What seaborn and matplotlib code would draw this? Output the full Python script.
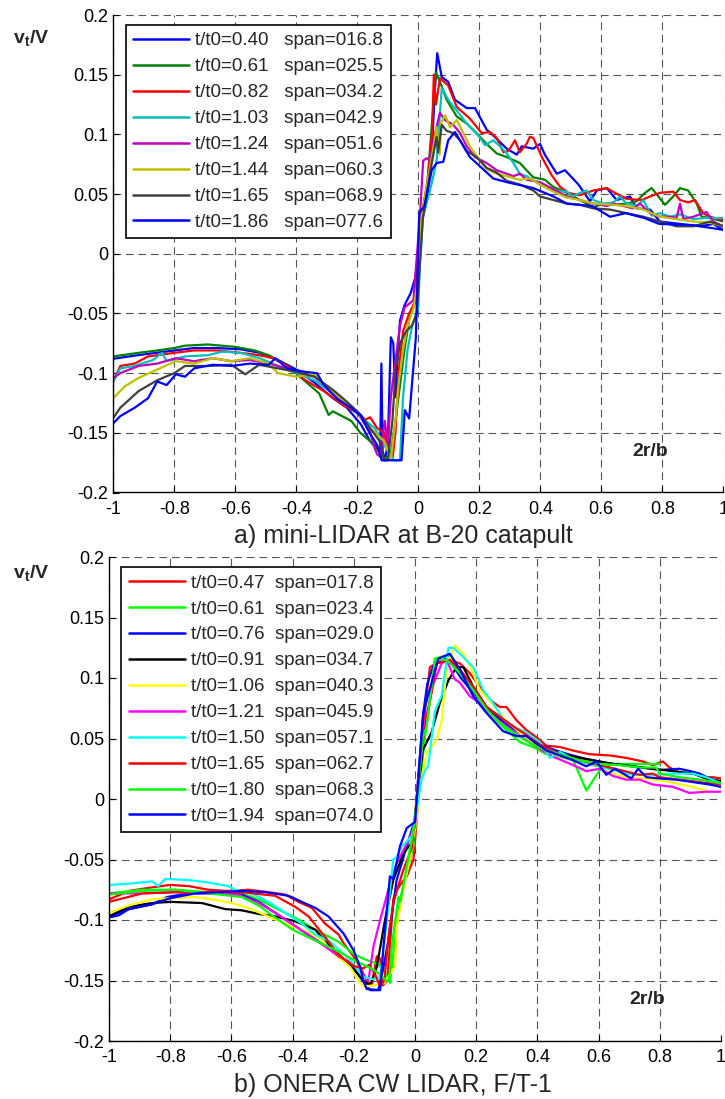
import matplotlib
matplotlib.use('Agg')
import matplotlib.pyplot as plt
import seaborn as sns
import pandas as pd
from matplotlib.ticker import FixedLocator, FixedFormatter

sns.set_style('white')
plt.rcParams['font.family'] = ['Liberation Sans', 'DejaVu Sans']
plt.rcParams['mathtext.fontset'] = 'custom'
plt.rcParams['mathtext.bf'] = 'Liberation Sans:bold'
plt.rcParams['mathtext.rm'] = 'Liberation Sans'
plt.rcParams['mathtext.it'] = 'Liberation Sans:italic'
plt.rcParams['lines.scale_dashes'] = False

# ---------------- data: panel a) mini-LIDAR (x = 2r/b, y = vt/V) ----------------
A_T040 = [(-1, -0.088), (-0.92, -0.085), (-0.8, -0.081), (-0.735, -0.079), (-0.66, -0.079), (-0.583, -0.080),
          (-0.52, -0.083), (-0.46, -0.089), (-0.4, -0.097), (-0.34, -0.108), (-0.28, -0.121), (-0.234, -0.129),
          (-0.188, -0.143), (-0.158, -0.157), (-0.135, -0.162), (-0.125, -0.165), (-0.121, -0.092), (-0.117, -0.165),
          (-0.11, -0.173), (-0.1, -0.160), (-0.09, -0.070), (-0.082, -0.075), (-0.075, -0.120), (-0.068, -0.085),
          (-0.06, -0.056), (-0.045, -0.043), (-0.025, -0.033), (-0.01, -0.020), (0.0, 0.000), (0.01, 0.030),
          (0.03, 0.050), (0.045, 0.090), (0.055, 0.140), (0.062, 0.168), (0.077, 0.148), (0.098, 0.144),
          (0.12, 0.129), (0.159, 0.122), (0.186, 0.122), (0.224, 0.104), (0.246, 0.099), (0.29, 0.088),
          (0.323, 0.083), (0.339, 0.090), (0.377, 0.088), (0.399, 0.092), (0.415, 0.083), (0.454, 0.067),
          (0.481, 0.070), (0.525, 0.058), (0.563, 0.044), (0.585, 0.053), (0.618, 0.055), (0.65, 0.045),
          (0.694, 0.048), (0.716, 0.038), (0.76, 0.037), (0.792, 0.027), (0.858, 0.025), (0.924, 0.023),
          (0.967, 0.025), (1.0, 0.020)]
A_T061 = [(-1, -0.086), (-0.917, -0.083), (-0.856, -0.081), (-0.8, -0.079), (-0.765, -0.077), (-0.69, -0.076),
          (-0.6, -0.078), (-0.537, -0.081), (-0.49, -0.085), (-0.43, -0.094), (-0.37, -0.107), (-0.325, -0.117),
          (-0.294, -0.135), (-0.28, -0.132), (-0.25, -0.136), (-0.22, -0.140), (-0.19, -0.150), (-0.158, -0.157),
          (-0.135, -0.164), (-0.11, -0.172), (-0.09, -0.168), (-0.075, -0.140), (-0.06, -0.110), (-0.045, -0.080),
          (-0.03, -0.055), (-0.01, -0.040), (0.0, -0.010), (0.01, 0.030), (0.03, 0.060), (0.045, 0.110),
          (0.058, 0.152), (0.077, 0.140), (0.093, 0.129), (0.126, 0.115), (0.159, 0.109), (0.191, 0.101),
          (0.224, 0.092), (0.257, 0.084), (0.29, 0.081), (0.333, 0.076), (0.377, 0.064), (0.415, 0.062),
          (0.443, 0.056), (0.487, 0.051), (0.53, 0.045), (0.574, 0.039), (0.596, 0.041), (0.64, 0.041),
          (0.683, 0.042), (0.716, 0.044), (0.743, 0.051), (0.765, 0.055), (0.787, 0.048), (0.809, 0.041),
          (0.836, 0.048), (0.858, 0.055), (0.885, 0.053), (0.913, 0.042), (0.929, 0.031), (0.956, 0.030),
          (1.0, 0.027)]
A_T082 = [(-1, -0.107), (-0.977, -0.094), (-0.93, -0.092), (-0.886, -0.086), (-0.8, -0.083), (-0.735, -0.081),
          (-0.66, -0.081), (-0.583, -0.083), (-0.522, -0.085), (-0.476, -0.0875), (-0.43, -0.094), (-0.37, -0.106),
          (-0.31, -0.115), (-0.25, -0.126), (-0.203, -0.133), (-0.173, -0.139), (-0.158, -0.137), (-0.135, -0.146),
          (-0.112, -0.150), (-0.1, -0.165), (-0.085, -0.173), (-0.075, -0.150), (-0.065, -0.100), (-0.05, -0.065),
          (-0.03, -0.050), (-0.01, -0.040), (0.0, -0.010), (0.01, 0.030), (0.03, 0.060), (0.045, 0.100),
          (0.051, 0.150), (0.058, 0.125), (0.071, 0.147), (0.098, 0.141), (0.126, 0.123), (0.17, 0.113),
          (0.208, 0.101), (0.235, 0.102), (0.257, 0.097), (0.279, 0.085), (0.295, 0.086), (0.317, 0.095),
          (0.333, 0.085), (0.355, 0.092), (0.366, 0.098), (0.377, 0.097), (0.405, 0.081), (0.437, 0.066),
          (0.465, 0.056), (0.492, 0.051), (0.53, 0.049), (0.574, 0.053), (0.618, 0.055), (0.645, 0.051),
          (0.683, 0.046), (0.733, 0.045), (0.76, 0.048), (0.792, 0.051), (0.836, 0.052), (0.858, 0.045),
          (0.885, 0.043), (0.907, 0.045), (0.934, 0.034), (0.956, 0.031), (1.0, 0.028)]
A_T103 = [(-1, -0.107), (-0.977, -0.096), (-0.93, -0.094), (-0.87, -0.089), (-0.84, -0.083), (-0.825, -0.090),
          (-0.765, -0.086), (-0.69, -0.085), (-0.643, -0.082), (-0.583, -0.083), (-0.52, -0.0875), (-0.46, -0.094),
          (-0.4, -0.100), (-0.34, -0.106), (-0.28, -0.117), (-0.22, -0.129), (-0.173, -0.140), (-0.143, -0.146),
          (-0.112, -0.160), (-0.1, -0.165), (-0.08, -0.173), (-0.06, -0.173), (-0.05, -0.120), (-0.035, -0.080),
          (-0.02, -0.060), (0.0, -0.045), (0.005, -0.010), (0.015, 0.030), (0.03, 0.045), (0.045, 0.060),
          (0.06, 0.078), (0.077, 0.139), (0.098, 0.129), (0.126, 0.120), (0.159, 0.109), (0.191, 0.101),
          (0.219, 0.091), (0.246, 0.095), (0.268, 0.090), (0.29, 0.084), (0.312, 0.076), (0.333, 0.067),
          (0.355, 0.065), (0.399, 0.058), (0.443, 0.053), (0.487, 0.052), (0.508, 0.048), (0.53, 0.051),
          (0.552, 0.053), (0.574, 0.045), (0.607, 0.042), (0.64, 0.043), (0.661, 0.048), (0.683, 0.042),
          (0.716, 0.040), (0.738, 0.045), (0.765, 0.032), (0.792, 0.034), (0.825, 0.031), (0.858, 0.033),
          (0.902, 0.029), (0.945, 0.030), (1.0, 0.030)]
A_T124 = [(-1, -0.104), (-0.977, -0.100), (-0.917, -0.094), (-0.856, -0.092), (-0.795, -0.0875), (-0.735, -0.090),
          (-0.674, -0.0875), (-0.613, -0.090), (-0.552, -0.089), (-0.49, -0.092), (-0.43, -0.096), (-0.385, -0.100),
          (-0.34, -0.103), (-0.294, -0.113), (-0.25, -0.124), (-0.203, -0.132), (-0.158, -0.149), (-0.143, -0.163),
          (-0.135, -0.168), (-0.125, -0.170), (-0.11, -0.140), (-0.1, -0.160), (-0.09, -0.120), (-0.075, -0.090),
          (-0.06, -0.060), (-0.045, -0.045), (-0.016, -0.039), (0.005, 0.030), (0.016, 0.078), (0.027, 0.080),
          (0.038, 0.078), (0.055, 0.101), (0.071, 0.118), (0.087, 0.112), (0.115, 0.108), (0.137, 0.101),
          (0.159, 0.090), (0.186, 0.081), (0.224, 0.076), (0.257, 0.070), (0.29, 0.067), (0.312, 0.065),
          (0.333, 0.067), (0.355, 0.062), (0.399, 0.060), (0.443, 0.054), (0.487, 0.048), (0.53, 0.045),
          (0.574, 0.042), (0.618, 0.040), (0.64, 0.042), (0.672, 0.040), (0.705, 0.038), (0.727, 0.042),
          (0.76, 0.034), (0.792, 0.031), (0.825, 0.031), (0.847, 0.030), (0.858, 0.042), (0.869, 0.029),
          (0.902, 0.031), (0.945, 0.035), (0.967, 0.027), (1.0, 0.023)]
A_T144 = [(-1, -0.121), (-0.962, -0.111), (-0.917, -0.104), (-0.856, -0.097), (-0.795, -0.090), (-0.735, -0.092),
          (-0.674, -0.0875), (-0.613, -0.090), (-0.552, -0.0875), (-0.49, -0.092), (-0.46, -0.100), (-0.4, -0.103),
          (-0.34, -0.101), (-0.31, -0.110), (-0.25, -0.122), (-0.203, -0.132), (-0.158, -0.146), (-0.112, -0.157),
          (-0.1, -0.165), (-0.09, -0.173), (-0.075, -0.140), (-0.065, -0.110), (-0.05, -0.080), (-0.035, -0.060),
          (-0.015, -0.045), (0.0, -0.020), (0.01, 0.030), (0.03, 0.060), (0.05, 0.090), (0.06, 0.106),
          (0.07, 0.083), (0.075, 0.110), (0.088, 0.116), (0.104, 0.106), (0.126, 0.112), (0.148, 0.101),
          (0.169, 0.090), (0.202, 0.078), (0.224, 0.071), (0.257, 0.067), (0.29, 0.065), (0.333, 0.062),
          (0.366, 0.063), (0.399, 0.058), (0.443, 0.052), (0.487, 0.047), (0.53, 0.045), (0.574, 0.042),
          (0.64, 0.041), (0.683, 0.040), (0.738, 0.037), (0.792, 0.031), (0.847, 0.029), (0.902, 0.027),
          (0.956, 0.026), (1.0, 0.023)]
A_T165 = [(-1, -0.1375), (-0.977, -0.129), (-0.917, -0.115), (-0.856, -0.106), (-0.8, -0.100), (-0.765, -0.094),
          (-0.69, -0.094), (-0.613, -0.093), (-0.567, -0.101), (-0.522, -0.093), (-0.46, -0.096), (-0.4, -0.099),
          (-0.34, -0.103), (-0.28, -0.114), (-0.234, -0.124), (-0.188, -0.135), (-0.158, -0.146), (-0.127, -0.157),
          (-0.112, -0.173), (-0.1, -0.173), (-0.085, -0.140), (-0.075, -0.100), (-0.06, -0.075), (-0.04, -0.065),
          (-0.02, -0.060), (-0.005, -0.050), (0.005, -0.010), (0.015, 0.030), (0.025, 0.045), (0.04, 0.070),
          (0.06, 0.098), (0.065, 0.085), (0.077, 0.108), (0.093, 0.103), (0.115, 0.101), (0.137, 0.095),
          (0.159, 0.086), (0.191, 0.081), (0.224, 0.072), (0.257, 0.068), (0.29, 0.061), (0.333, 0.058),
          (0.377, 0.053), (0.399, 0.048), (0.443, 0.045), (0.487, 0.042), (0.53, 0.041), (0.574, 0.038),
          (0.629, 0.037), (0.683, 0.034), (0.738, 0.031), (0.792, 0.027), (0.847, 0.023), (0.902, 0.023),
          (0.956, 0.027), (1.0, 0.023)]
A_T186 = [(-1, -0.142), (-0.977, -0.136), (-0.93, -0.129), (-0.886, -0.121), (-0.856, -0.107), (-0.825, -0.110),
          (-0.795, -0.101), (-0.765, -0.103), (-0.735, -0.096), (-0.674, -0.093), (-0.613, -0.094), (-0.552, -0.092),
          (-0.49, -0.093), (-0.469, -0.0875), (-0.43, -0.096), (-0.37, -0.099), (-0.332, -0.100), (-0.31, -0.110),
          (-0.264, -0.122), (-0.22, -0.129), (-0.188, -0.136), (-0.158, -0.151), (-0.135, -0.160), (-0.12, -0.173),
          (-0.055, -0.173), (-0.044, -0.131), (-0.03, -0.138), (-0.008, -0.070), (0.003, 0.034), (0.02, 0.040),
          (0.044, 0.070), (0.06, 0.076), (0.082, 0.077), (0.098, 0.095), (0.12, 0.102), (0.169, 0.081),
          (0.246, 0.063), (0.29, 0.060), (0.377, 0.055), (0.443, 0.048), (0.487, 0.042), (0.57, 0.040),
          (0.629, 0.031), (0.68, 0.034), (0.74, 0.030), (0.79, 0.025), (0.9, 0.024), (1.0, 0.020)]

A_SERIES = [A_T040, A_T061, A_T082, A_T103, A_T124, A_T144, A_T165, A_T186]
A_LABELS = ['t/t0=0.40   span=016.8', 't/t0=0.61   span=025.5', 't/t0=0.82   span=034.2',
            't/t0=1.03   span=042.9', 't/t0=1.24   span=051.6', 't/t0=1.44   span=060.3',
            't/t0=1.65   span=068.9', 't/t0=1.86   span=077.6']
A_COLORS = ['#0000ff', '#008000', '#ff0000', '#00bfbf', '#bf00bf', '#bfbf00', '#404040', '#0000ff']

# ---------------- data: panel b) ONERA CW LIDAR ----------------
B_T047 = [(-1, -0.083), (-0.935, -0.076), (-0.859, -0.073), (-0.8, -0.071), (-0.74, -0.072), (-0.675, -0.075),
          (-0.61, -0.076), (-0.544, -0.075), (-0.479, -0.077), (-0.424, -0.079), (-0.381, -0.085), (-0.337, -0.090),
          (-0.294, -0.103), (-0.25, -0.112), (-0.234, -0.119), (-0.201, -0.130), (-0.179, -0.139), (-0.158, -0.150),
          (-0.141, -0.154), (-0.125, -0.130), (-0.114, -0.132), (-0.105, -0.154), (-0.09, -0.150), (-0.071, -0.083),
          (-0.06, -0.075), (-0.027, -0.064), (-0.005, -0.050), (0.016, 0.016), (0.035, 0.080), (0.049, 0.109),
          (0.082, 0.114), (0.125, 0.114), (0.147, 0.112), (0.179, 0.104), (0.212, 0.093), (0.245, 0.082),
          (0.277, 0.076), (0.299, 0.076), (0.332, 0.065), (0.364, 0.057), (0.397, 0.051), (0.43, 0.044),
          (0.473, 0.043), (0.517, 0.040), (0.571, 0.037), (0.636, 0.036), (0.69, 0.034), (0.745, 0.031),
          (0.777, 0.028), (0.81, 0.031), (0.832, 0.026), (0.864, 0.022), (0.897, 0.021), (0.919, 0.021),
          (0.94, 0.018), (0.973, 0.018), (1.0, 0.017)]
B_T061 = [(-1, -0.078), (-0.891, -0.075), (-0.783, -0.075), (-0.675, -0.077), (-0.566, -0.078), (-0.511, -0.083),
          (-0.457, -0.090), (-0.392, -0.098), (-0.326, -0.108), (-0.25, -0.118), (-0.201, -0.128), (-0.169, -0.132),
          (-0.125, -0.136), (-0.103, -0.141), (-0.082, -0.152), (-0.049, -0.083), (-0.005, -0.039), (0.011, 0.001),
          (0.033, 0.052), (0.049, 0.082), (0.065, 0.116), (0.092, 0.118), (0.12, 0.118), (0.147, 0.104),
          (0.168, 0.099), (0.201, 0.087), (0.234, 0.076), (0.266, 0.065), (0.299, 0.057), (0.343, 0.047),
          (0.386, 0.043), (0.43, 0.037), (0.473, 0.035), (0.517, 0.032), (0.56, 0.007), (0.604, 0.024),
          (0.647, 0.029), (0.69, 0.029), (0.745, 0.029), (0.777, 0.029), (0.8, 0.029)]
B_T076 = [(-1, -0.097), (-0.935, -0.091), (-0.859, -0.087), (-0.81, -0.081), (-0.74, -0.078), (-0.64, -0.078),
          (-0.566, -0.079), (-0.511, -0.085), (-0.457, -0.094), (-0.392, -0.105), (-0.326, -0.116), (-0.25, -0.129),
          (-0.2, -0.140), (-0.169, -0.151), (-0.147, -0.158), (-0.12, -0.158), (-0.103, -0.139), (-0.087, -0.117),
          (-0.06, -0.067), (-0.027, -0.039), (0.0, -0.017), (0.011, 0.020), (0.027, 0.071), (0.04, 0.095),
          (0.06, 0.110), (0.08, 0.113), (0.1, 0.116), (0.125, 0.110), (0.15, 0.100), (0.19, 0.088),
          (0.234, 0.075), (0.277, 0.066), (0.321, 0.058), (0.364, 0.052), (0.408, 0.045), (0.451, 0.041),
          (0.5, 0.037), (0.56, 0.033), (0.62, 0.030), (0.68, 0.028), (0.74, 0.026), (0.8, 0.024),
          (0.864, 0.025), (0.9, 0.023), (0.93, 0.021), (0.962, 0.017), (1.0, 0.014)]
B_T091 = [(-1, -0.097), (-0.935, -0.089), (-0.859, -0.086), (-0.8, -0.085), (-0.696, -0.086), (-0.62, -0.091),
          (-0.566, -0.092), (-0.511, -0.095), (-0.457, -0.097), (-0.392, -0.101), (-0.326, -0.108), (-0.277, -0.122),
          (-0.212, -0.137), (-0.169, -0.150), (-0.147, -0.154), (-0.125, -0.139), (-0.098, -0.100), (-0.071, -0.067),
          (-0.038, -0.045), (-0.005, -0.034), (0.008, 0.000), (0.025, 0.040), (0.054, 0.055), (0.082, 0.080),
          (0.109, 0.098), (0.136, 0.109), (0.158, 0.109), (0.19, 0.093), (0.234, 0.076), (0.277, 0.068),
          (0.321, 0.060), (0.364, 0.052), (0.408, 0.043), (0.451, 0.039), (0.517, 0.035), (0.582, 0.032),
          (0.647, 0.029), (0.712, 0.027), (0.777, 0.025), (0.843, 0.023), (0.908, 0.021), (0.962, 0.016),
          (1.0, 0.015)]
B_T106 = [(-1, -0.094), (-0.935, -0.088), (-0.859, -0.083), (-0.8, -0.082), (-0.718, -0.081), (-0.66, -0.083),
          (-0.6, -0.086), (-0.544, -0.090), (-0.48, -0.097), (-0.413, -0.104), (-0.35, -0.110), (-0.3, -0.117),
          (-0.277, -0.125), (-0.212, -0.139), (-0.179, -0.152), (-0.169, -0.155), (-0.136, -0.154), (-0.1, -0.152),
          (-0.065, -0.138), (-0.06, -0.106), (-0.043, -0.081), (-0.016, -0.048), (0.005, -0.017), (0.016, 0.010),
          (0.038, 0.038), (0.071, 0.049), (0.087, 0.064), (0.103, 0.108), (0.13, 0.127), (0.158, 0.120),
          (0.185, 0.107), (0.212, 0.090), (0.256, 0.078), (0.299, 0.064), (0.343, 0.055), (0.397, 0.043),
          (0.451, 0.037), (0.517, 0.033), (0.582, 0.028), (0.647, 0.021), (0.69, 0.018), (0.756, 0.017),
          (0.832, 0.014), (0.908, 0.010), (0.951, 0.007)]
B_T121 = [(-1, -0.078), (-0.891, -0.078), (-0.783, -0.077), (-0.675, -0.078), (-0.58, -0.079), (-0.511, -0.086),
          (-0.457, -0.094), (-0.392, -0.105), (-0.326, -0.116), (-0.25, -0.130), (-0.212, -0.135), (-0.179, -0.143),
          (-0.152, -0.150), (-0.136, -0.122), (-0.114, -0.100), (-0.087, -0.075), (-0.06, -0.053), (-0.027, -0.037),
          (0.0, -0.023), (0.01, 0.010), (0.03, 0.060), (0.06, 0.095), (0.087, 0.112), (0.103, 0.115),
          (0.13, 0.099), (0.147, 0.096), (0.179, 0.085), (0.212, 0.079), (0.256, 0.068), (0.299, 0.060),
          (0.343, 0.052), (0.397, 0.043), (0.451, 0.035), (0.517, 0.028), (0.56, 0.023), (0.604, 0.025),
          (0.647, 0.019), (0.69, 0.016), (0.734, 0.016), (0.777, 0.012), (0.843, 0.010), (0.897, 0.005),
          (0.951, 0.006), (1.0, 0.006)]
B_T150 = [(-1, -0.071), (-0.935, -0.070), (-0.859, -0.068), (-0.84, -0.072), (-0.816, -0.066), (-0.74, -0.067),
          (-0.675, -0.069), (-0.61, -0.072), (-0.588, -0.075), (-0.533, -0.078), (-0.479, -0.085), (-0.424, -0.094),
          (-0.37, -0.103), (-0.326, -0.112), (-0.277, -0.118), (-0.212, -0.133), (-0.169, -0.147), (-0.136, -0.149),
          (-0.114, -0.147), (-0.092, -0.100), (-0.071, -0.050), (-0.06, -0.048), (-0.043, -0.039), (-0.011, -0.031),
          (0.005, -0.010), (0.02, 0.015), (0.033, 0.024), (0.043, 0.027), (0.065, 0.073), (0.087, 0.085),
          (0.109, 0.125), (0.125, 0.125), (0.147, 0.120), (0.19, 0.109), (0.223, 0.090), (0.256, 0.079),
          (0.288, 0.066), (0.321, 0.060), (0.364, 0.055), (0.408, 0.047), (0.441, 0.034), (0.473, 0.039),
          (0.517, 0.033), (0.582, 0.028), (0.647, 0.024), (0.712, 0.020), (0.777, 0.020), (0.843, 0.021),
          (0.908, 0.021), (0.951, 0.018), (1.0, 0.013)]
B_T165 = [(-1, -0.085), (-0.891, -0.078), (-0.783, -0.077), (-0.675, -0.077), (-0.566, -0.077), (-0.457, -0.080),
          (-0.392, -0.089), (-0.348, -0.097), (-0.294, -0.114), (-0.25, -0.129), (-0.2, -0.138), (-0.17, -0.140),
          (-0.15, -0.137), (-0.13, -0.145), (-0.114, -0.155), (-0.1, -0.150), (-0.085, -0.110), (-0.07, -0.085),
          (-0.04, -0.060), (-0.01, -0.040), (0.005, 0.000), (0.02, 0.040), (0.038, 0.066), (0.071, 0.112),
          (0.114, 0.115), (0.147, 0.107), (0.19, 0.093), (0.234, 0.076), (0.277, 0.068), (0.321, 0.060),
          (0.364, 0.053), (0.408, 0.045), (0.473, 0.037), (0.538, 0.032), (0.604, 0.028), (0.669, 0.024),
          (0.734, 0.020), (0.777, 0.021), (0.799, 0.018), (0.864, 0.016), (0.93, 0.014), (1.0, 0.012)]
B_T180 = [(-1, -0.079), (-0.891, -0.076), (-0.783, -0.075), (-0.675, -0.078), (-0.566, -0.081), (-0.511, -0.088),
          (-0.457, -0.098), (-0.4, -0.108), (-0.326, -0.117), (-0.25, -0.126), (-0.2, -0.133), (-0.16, -0.138),
          (-0.13, -0.142), (-0.11, -0.146), (-0.095, -0.150), (-0.085, -0.150), (-0.075, -0.120), (-0.054, -0.081),
          (-0.048, -0.085), (-0.03, -0.060), (-0.005, -0.026), (0.01, 0.010), (0.025, 0.050), (0.038, 0.060),
          (0.065, 0.115), (0.103, 0.115), (0.147, 0.104), (0.19, 0.090), (0.234, 0.074), (0.277, 0.063),
          (0.321, 0.055), (0.364, 0.048), (0.408, 0.042), (0.473, 0.037), (0.538, 0.032), (0.604, 0.029),
          (0.669, 0.028), (0.734, 0.026), (0.788, 0.026), (0.8, 0.021), (0.864, 0.018), (0.93, 0.016),
          (1.0, 0.013)]
B_T194 = [(-1, -0.098), (-0.967, -0.096), (-0.935, -0.091), (-0.859, -0.087), (-0.8, -0.082), (-0.718, -0.078),
          (-0.642, -0.077), (-0.566, -0.076), (-0.489, -0.077), (-0.413, -0.080), (-0.37, -0.085), (-0.326, -0.090),
          (-0.283, -0.097), (-0.234, -0.111), (-0.201, -0.125), (-0.179, -0.139), (-0.169, -0.150), (-0.158, -0.157),
          (-0.114, -0.158), (-0.103, -0.122), (-0.082, -0.064), (-0.071, -0.066), (-0.049, -0.039), (-0.027, -0.024),
          (0.0, -0.019), (0.011, 0.016), (0.027, 0.071), (0.076, 0.116), (0.114, 0.120), (0.147, 0.107),
          (0.19, 0.085), (0.234, 0.071), (0.288, 0.056), (0.332, 0.052), (0.364, 0.052), (0.397, 0.046),
          (0.43, 0.040), (0.473, 0.036), (0.517, 0.032), (0.56, 0.027), (0.593, 0.031), (0.625, 0.020),
          (0.653, 0.025), (0.68, 0.021), (0.707, 0.017), (0.729, 0.025), (0.756, 0.018), (0.799, 0.017),
          (0.853, 0.016), (0.908, 0.014), (0.962, 0.012), (1.0, 0.010)]

B_SERIES = [B_T047, B_T061, B_T076, B_T091, B_T106, B_T121, B_T150, B_T165, B_T180, B_T194]
B_LABELS = ['t/t0=0.47  span=017.8', 't/t0=0.61  span=023.4', 't/t0=0.76  span=029.0',
            't/t0=0.91  span=034.7', 't/t0=1.06  span=040.3', 't/t0=1.21  span=045.9',
            't/t0=1.50  span=057.1', 't/t0=1.65  span=062.7', 't/t0=1.80  span=068.3',
            't/t0=1.94  span=074.0']
B_COLORS = ['#ff0000', '#00ff00', '#0000ff', '#000000', '#ffff00', '#ff00ff', '#00ffff',
            '#ff0000', '#00ff00', '#0000ff']

X_TICKS = [-1, -0.8, -0.6, -0.4, -0.2, 0, 0.2, 0.4, 0.6, 0.8, 1]
X_TICKLABELS = ['-1', '-0.8', '-0.6', '-0.4', '-0.2', '0', '0.2', '0.4', '0.6', '0.8', '1']
Y_TICKS = [-0.2, -0.15, -0.1, -0.05, 0, 0.05, 0.1, 0.15, 0.2]
Y_TICKLABELS = ['-0.2', '-0.15', '-0.1', '-0.05', '0', '0.05', '0.1', '0.15', '0.2']

TITLE_A = 'a) mini-LIDAR at B-20 catapult'
TITLE_B = 'b) ONERA CW LIDAR, F/T-1'


def make_frame(series, labels):
    rows = []
    for lab, pts in zip(labels, series):
        for x, y in pts:
            rows.append((lab, x, y))
    return pd.DataFrame(rows, columns=['label', 'x', 'y'])


def draw_panel(ax, series, labels, colors):
    df = make_frame(series, labels)
    sns.lineplot(data=df, x='x', y='y', hue='label', hue_order=labels,
                 palette=dict(zip(labels, colors)), sort=False, estimator=None,
                 linewidth=1.6, ax=ax, legend=True)
    ax.set_xlim(-1, 1)
    ax.set_ylim(-0.2, 0.2)
    ax.xaxis.set_major_locator(FixedLocator(X_TICKS))
    ax.xaxis.set_major_formatter(FixedFormatter(X_TICKLABELS))
    ax.yaxis.set_major_locator(FixedLocator(Y_TICKS))
    ax.yaxis.set_major_formatter(FixedFormatter(Y_TICKLABELS))
    ax.set_xlabel('')
    ax.set_ylabel('')
    ax.grid(True, linestyle=(0, (5.5, 3.5)), color='#555555', linewidth=0.8)
    ax.set_axisbelow(True)
    for s in ('top', 'right'):
        ax.spines[s].set_visible(False)
    for s in ('left', 'bottom'):
        ax.spines[s].set_color('black')
        ax.spines[s].set_linewidth(1.0)
    ax.tick_params(axis='both', direction='in', length=4, width=0.8, labelsize=13,
                   colors='black', left=True, bottom=True)
    ax.tick_params(axis='x', pad=6)
    ax.tick_params(axis='y', pad=3.5)
    handles, labs = ax.get_legend_handles_labels()
    leg = ax.legend(handles, labs, loc='upper left', bbox_to_anchor=(0.02, 0.979),
                    borderaxespad=0, fontsize=13.5, frameon=True, fancybox=False,
                    edgecolor='black', framealpha=1, handlelength=3.0,
                    handletextpad=0.33, labelspacing=0.47, borderpad=0.39)
    leg.get_frame().set_linewidth(1.2)
    for line in leg.get_lines():
        line.set_linewidth(1.8)
    ax.text(0.76, -0.166, '2r/b', fontsize=14, fontweight='bold', ha='center', va='center')


W, H = 725, 1099
fig = plt.figure(figsize=(W / 100, H / 100), dpi=100)
ax_a = fig.add_axes([113.3 / W, 1 - 492.5 / H, 610 / W, 477.5 / H])
ax_b = fig.add_axes([109 / W, 1 - 1041 / H, 612 / W, 484 / H])

draw_panel(ax_a, A_SERIES, A_LABELS, A_COLORS)
draw_panel(ax_b, B_SERIES, B_LABELS, B_COLORS)

ylab = r'$\mathbf{v}_{\mathbf{t}}\mathbf{/V}$'
fig.text(13 / W, 1 - 38 / H, ylab, fontsize=14, ha='left', va='center')
fig.text(13 / W, 1 - 573 / H, ylab, fontsize=14, ha='left', va='center')

fig.text(403 / W, 1 - 536 / H, TITLE_A, fontsize=18, ha='center', va='center')
fig.text(393 / W, 1 - 1085 / H, TITLE_B, fontsize=18, ha='center', va='center')

fig.savefig('out.png', dpi=100)
